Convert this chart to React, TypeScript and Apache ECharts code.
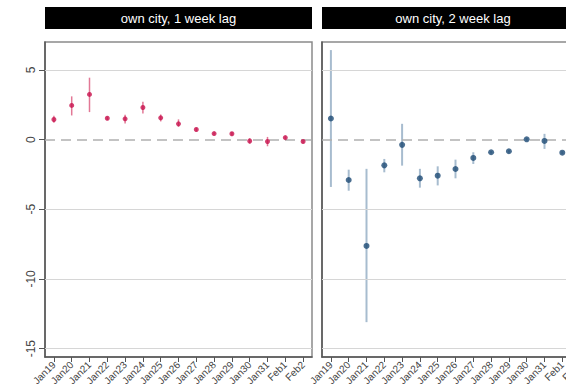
import React, { useEffect, useRef } from "react";
import * as echarts from "echarts";

const categories = ["Jan19", "Jan20", "Jan21", "Jan22", "Jan23", "Jan24", "Jan25", "Jan26", "Jan27", "Jan28", "Jan29", "Jan30", "Jan31", "Feb1", "Feb2"];
const panelTitles = ["own city, 1 week lag", "own city, 2 week lag"];
const yTicks = [-15, -10, -5, 0, 5];
const gridValues = [5, -5, -10, -15];

const lag1Est = [1.44, 2.45, 3.24, 1.53, 1.49, 2.3, 1.56, 1.13, 0.72, 0.43, 0.42, -0.1, -0.14, 0.14, -0.14];
const lag1Lo = [1.2, 1.73, 1.97, 1.4, 1.15, 1.87, 1.3, 0.91, 0.6, 0.35, 0.3, -0.3, -0.48, 0.05, -0.25];
const lag1Hi = [1.7, 3.1, 4.44, 1.65, 1.78, 2.71, 1.8, 1.45, 0.85, 0.52, 0.55, 0.1, 0.19, 0.23, -0.03];

const lag2Est = [1.51, -2.9, -7.63, -1.85, -0.38, -2.78, -2.59, -2.11, -1.32, -0.91, -0.84, 0.02, -0.1, -0.94, -0.6];
const lag2Lo = [-3.4, -3.67, -13.1, -2.35, -1.87, -3.45, -3.29, -2.78, -1.75, -1.0, -0.95, -0.08, -0.67, -1.05, -0.75];
const lag2Hi = [6.42, -2.16, -2.1, -1.39, 1.13, -2.1, -1.92, -1.44, -0.91, -0.82, -0.73, 0.12, 0.41, -0.83, -0.45];

const FONT = "'Liberation Sans', Arial, sans-serif";

function makeRefLines(idx: number) {
  return {
    type: "line",
    xAxisIndex: idx,
    yAxisIndex: idx,
    z: 1,
    data: [],
    markLine: {
      silent: true,
      symbol: "none",
      label: { show: false },
      animation: false,
      data: [
        ...gridValues.map((v) => ({ yAxis: v, lineStyle: { color: "#d6d6d6", width: 1, type: "solid" } })),
        { yAxis: 0, lineStyle: { color: "#b0b0b0", width: 1.5, type: [10, 6] } },
      ],
    },
  };
}

function makeErrSeries(idx: number, lo: number[], hi: number[], color: string, width: number) {
  return {
    type: "custom",
    xAxisIndex: idx,
    yAxisIndex: idx,
    z: 3,
    data: lo.map((l, i) => [i, l, hi[i]]),
    renderItem: (params: any, api: any) => {
      const p1 = api.coord([api.value(0), api.value(1)]);
      const p2 = api.coord([api.value(0), api.value(2)]);
      return {
        type: "line",
        shape: { x1: p1[0], y1: p1[1], x2: p2[0], y2: p2[1] },
        style: { stroke: color, lineWidth: width },
      };
    },
  };
}

function makeAxes(idx: number) {
  return {
    x: {
      type: "category",
      gridIndex: idx,
      data: categories,
      boundaryGap: true,
      axisLine: { show: true, onZero: false, lineStyle: { color: "#555", width: 1.5 } },
      axisTick: { show: true, alignWithLabel: true, length: 5, lineStyle: { color: "#555" } },
      axisLabel: { interval: 0, rotate: 45, fontSize: 10, color: "#444", fontFamily: FONT, margin: 6 },
      splitLine: { show: false },
    },
    y: {
      type: "value",
      gridIndex: idx,
      min: -15.6,
      max: 7,
      axisLine: { show: true, lineStyle: { color: "#555", width: 1.5 } },
      axisTick: { show: idx === 0, length: 6, lineStyle: { color: "#555" }, customValues: yTicks },
      axisLabel: { show: idx === 0, rotate: 90, fontSize: 12, color: "#444", fontFamily: FONT, margin: 8, customValues: yTicks },
      splitLine: { show: false },
    },
  };
}

export default function App() {
  const ref = useRef<HTMLDivElement>(null);
  useEffect(() => {
    if (!ref.current) return;
    const chart = echarts.init(ref.current, null, { renderer: "svg" });
    const a0 = makeAxes(0);
    const a1 = makeAxes(1);
    chart.setOption({
      animation: false,
      backgroundColor: "#fff",
      grid: [
        { left: 45, top: 42, width: 267, height: 315, show: true, borderColor: "#8a8a8a", borderWidth: 1.5, backgroundColor: "transparent" },
        { left: 322, top: 42, width: 267, height: 315, show: true, borderColor: "#8a8a8a", borderWidth: 1.5, backgroundColor: "transparent" },
      ],
      xAxis: [a0.x, a1.x],
      yAxis: [a0.y, a1.y],
      graphic: [
        { type: "rect", shape: { x: 45, y: 7, width: 267, height: 22 }, style: { fill: "#000" } },
        { type: "rect", shape: { x: 322, y: 7, width: 267, height: 22 }, style: { fill: "#000" } },
        { type: "text", x: 178.5, y: 18, style: { text: panelTitles[0], fill: "#fff", fontSize: 13, fontFamily: FONT, align: "center", verticalAlign: "middle" } },
        { type: "text", x: 453, y: 18, style: { text: panelTitles[1], fill: "#fff", fontSize: 13, fontFamily: FONT, align: "center", verticalAlign: "middle" } },
      ],
      series: [
        makeRefLines(0),
        makeRefLines(1),
        makeErrSeries(0, lag1Lo, lag1Hi, "#e27896", 1.5),
        makeErrSeries(1, lag2Lo, lag2Hi, "#a7bccf", 2),
        {
          type: "scatter",
          xAxisIndex: 0,
          yAxisIndex: 0,
          z: 5,
          symbol: "circle",
          symbolSize: 5,
          itemStyle: { color: "#c8124e" },
          data: lag1Est.map((v, i) => [i, v]),
        },
        {
          type: "scatter",
          xAxisIndex: 1,
          yAxisIndex: 1,
          z: 5,
          symbol: "circle",
          symbolSize: 6,
          itemStyle: { color: "#1d4a74" },
          data: lag2Est.map((v, i) => [i, v]),
        },
      ],
    });
    return () => chart.dispose();
  }, []);
  return (
    <div style={{ position: "fixed", left: 0, top: 0, width: 566, height: 389, overflow: "hidden" }}>
      <div ref={ref} style={{ width: 600, height: 389 }} />
    </div>
  );
}
